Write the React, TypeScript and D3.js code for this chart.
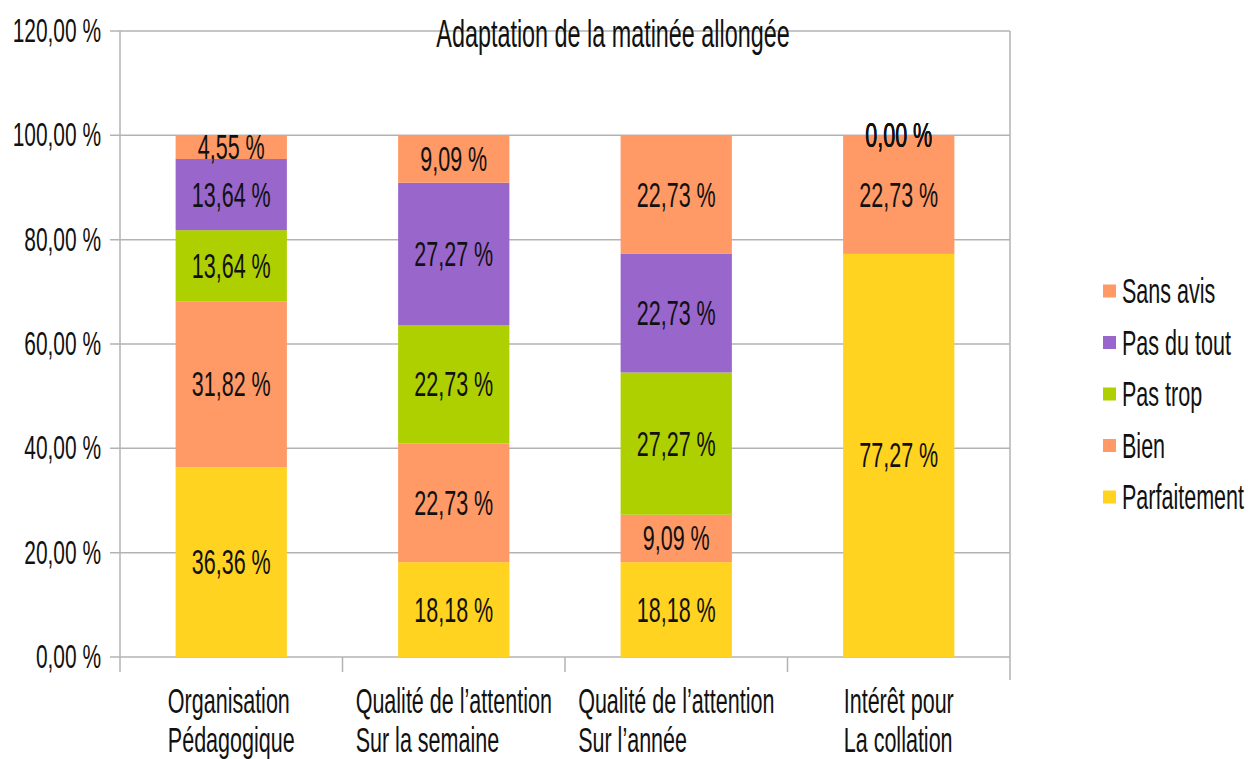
import React, { useEffect, useRef } from "react";
import * as d3 from "d3";

const title = "Adaptation de la matinée allongée";
const categories = [
  "Organisation|Pédagogique",
  "Qualité de l’attention|Sur la semaine",
  "Qualité de l’attention|Sur l’année",
  "Intérêt pour|La collation",
];
const seriesNames = ["Parfaitement", "Bien", "Pas trop", "Pas du tout", "Sans avis"];
const seriesColors = ["#ffd320", "#ff9966", "#aecf00", "#9966cc", "#ff9966"];
const parfaitement = [36.36, 18.18, 18.18, 77.27];
const bien = [31.82, 22.73, 9.09, 22.73];
const pasTrop = [13.64, 22.73, 27.27, 0];
const pasDuTout = [13.64, 27.27, 22.73, 0];
const sansAvis = [4.55, 9.09, 22.73, 0];
const yTicks = [0, 20, 40, 60, 80, 100, 120];

const W = 1248;
const H = 759;
const SX = 0.615;
const FONT = "'Liberation Sans', Arial, sans-serif";

export default function App() {
  const ref = useRef<SVGSVGElement>(null);

  useEffect(() => {
    const svg = d3.select(ref.current);
    svg.selectAll("*").remove();

    const left = 120, right = 1010, top = 31, bottom = 657;
    const y = d3.scaleLinear().domain([0, 120]).range([bottom, top]);
    const x = d3.scaleBand().domain(categories).range([left, right]).paddingInner(0).paddingOuter(0);
    const barW = x.bandwidth() * 0.5;

    const fmt = (v: number) => v.toFixed(2).replace(".", ",") + " %";

    const text = (
      g: any,
      px: number,
      py: number,
      str: string,
      size: number,
      anchor: string,
      weight = "normal"
    ) => {
      const t = g
        .append("g")
        .attr("transform", `translate(${px},${py}) scale(${SX},1)`)
        .append("text")
        .attr("x", 0)
        .attr("y", 0)
        .attr("font-family", FONT)
        .attr("font-size", size)
        .attr("font-weight", weight)
        .attr("fill", "#111")
        .attr("text-anchor", anchor)
        .text(str);
      return t;
    };

    // gridlines
    const grid = svg.append("g");
    yTicks.forEach((t) => {
      grid
        .append("line")
        .attr("x1", left - 10)
        .attr("x2", right)
        .attr("y1", y(t))
        .attr("y2", y(t))
        .attr("stroke", "#b3b3b3")
        .attr("stroke-width", 1.5);
    });
    // y axis and right border
    grid.append("line").attr("x1", left).attr("x2", left).attr("y1", top).attr("y2", bottom + 15)
      .attr("stroke", "#b3b3b3").attr("stroke-width", 1.5);
    grid.append("line").attr("x1", right).attr("x2", right).attr("y1", top).attr("y2", bottom + 23)
      .attr("stroke", "#b3b3b3").attr("stroke-width", 1.5);
    // category boundary ticks
    categories.forEach((c, i) => {
      if (i === 0) return;
      const bx = x(c)!;
      grid.append("line").attr("x1", bx).attr("x2", bx).attr("y1", bottom).attr("y2", bottom + 15)
        .attr("stroke", "#b3b3b3").attr("stroke-width", 1.5);
    });

    // y labels
    const yl = svg.append("g");
    yTicks.forEach((t) => {
      text(yl, 101, y(t) + 11, fmt(t), 34, "end");
    });

    // bars
    const series = [parfaitement, bien, pasTrop, pasDuTout, sansAvis];
    const bars = svg.append("g");
    const labels = svg.append("g");
    categories.forEach((c, ci) => {
      let acc = 0;
      const cx = x(c)! + x.bandwidth() / 2;
      series.forEach((s, si) => {
        const v = s[ci];
        const y0 = y(acc);
        const y1 = y(acc + v);
        bars
          .append("rect")
          .attr("x", cx - barW / 2)
          .attr("y", y1)
          .attr("width", barW)
          .attr("height", Math.max(0, y0 - y1))
          .attr("fill", seriesColors[si]);
        text(labels, cx, (y0 + y1) / 2 + 12, fmt(v), 35, "middle");
        acc += v;
      });
    });

    // x labels
    const xl = svg.append("g");
    categories.forEach((c) => {
      const lines = c.split("|");
      const cx = x(c)! + x.bandwidth() / 2;
      const nodes: any[] = [];
      lines.forEach((ln, li) => {
        nodes.push(text(xl, 0, 713 + li * 39, ln, 35, "start"));
      });
      const maxW = d3.max(nodes, (n: any) => (n.node() as SVGTextElement).getComputedTextLength())! * SX;
      nodes.forEach((n: any, li: number) => {
        d3.select(n.node().parentNode).attr(
          "transform",
          `translate(${cx - maxW / 2},${713 + li * 39}) scale(${SX},1)`
        );
      });
    });

    // legend
    const lg = svg.append("g");
    const legendOrder = [4, 3, 2, 1, 0];
    legendOrder.forEach((si, i) => {
      const cy = 291 + i * 51.5;
      lg.append("rect").attr("x", 1103).attr("y", cy - 6.5).attr("width", 13).attr("height", 13)
        .attr("fill", seriesColors[si]);
      text(lg, 1122, cy + 12, seriesNames[si], 35, "start");
    });

    // title
    text(svg, 613, 47, title, 38, "middle");
  }, []);

  return (
    <svg
      ref={ref}
      width={W}
      height={H}
      style={{ position: "absolute", left: 0, top: 0, background: "#fff", display: "block" }}
    />
  );
}
